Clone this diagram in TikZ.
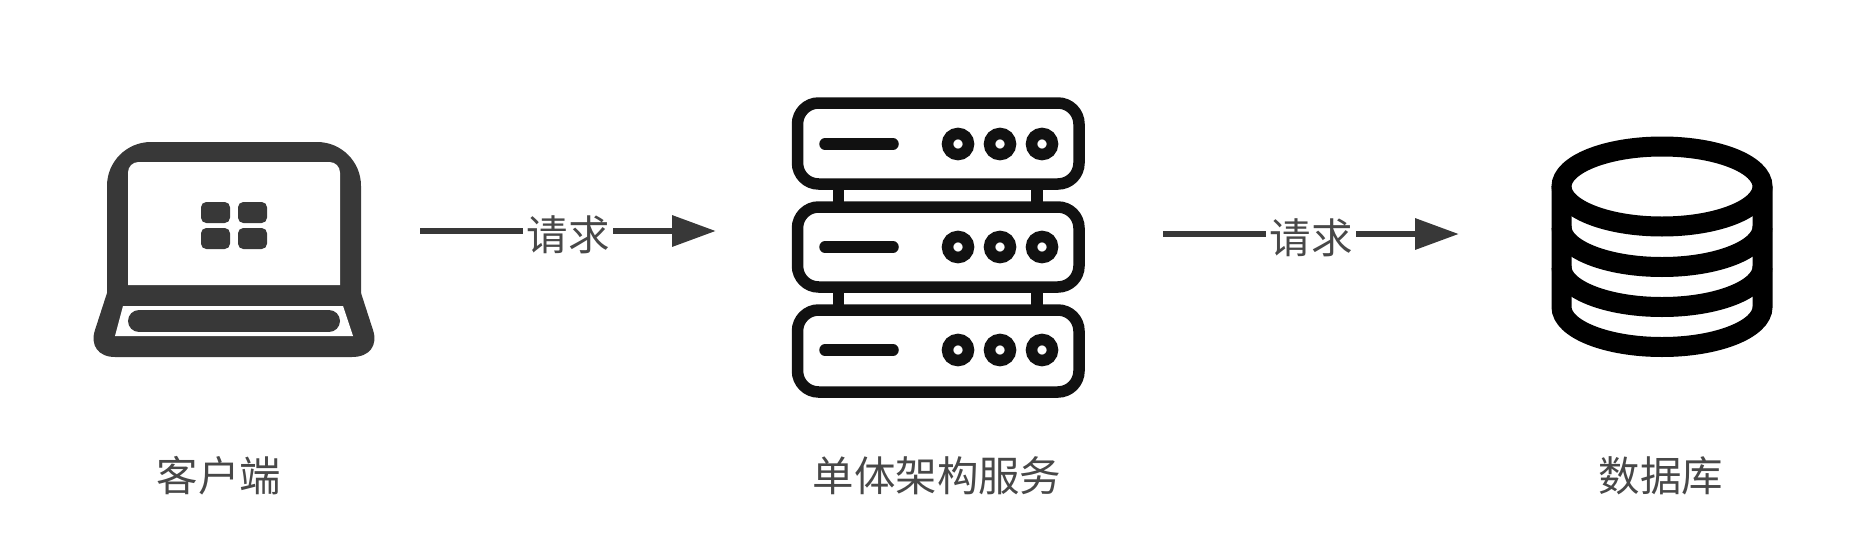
\documentclass[tikz,border=0pt]{standalone}
\usepackage{fontspec}
\setmainfont{Noto Sans CJK SC}
\usetikzlibrary{arrows.meta}
\definecolor{laptopgray}{HTML}{383838}
\definecolor{servergray}{HTML}{111111}
\definecolor{textgray}{HTML}{484848}
\tikzstyle{caption}=[font=\fontsize{23.6}{28}\selectfont,text=textgray,inner sep=0pt]
\tikzstyle{reqlabel}=[font=\fontsize{23.6}{28}\selectfont,text=textgray,inner xsep=2pt,inner ysep=0pt]
\tikzstyle{reqline}=[draw=laptopgray,line width=0.13cm]
\tikzstyle{reqarrow}=[reqline,-{Triangle[length=0.88cm,width=0.6cm]}]
\tikzstyle{serverline}=[draw=servergray,line width=0.23cm]
\tikzstyle{dbline}=[draw=black,line width=0.4cm]
\begin{document}
\begin{tikzpicture}[x=0.02cm,y=-0.02cm]
\useasboundingbox (0,0) rectangle (1868,558);

%laptop
    \fill[laptopgray] (107,300) [rounded corners=25] -- (107,142) -- (361,142) [sharp corners] -- (361,300) -- cycle;
    \fill[laptopgray] (107,293) -- (95,330) .. controls (90,345) and (98,357) .. (115,357) -- (352,357) .. controls (370,357) and (378,345) .. (373,330) -- (361,293) -- cycle;
    \fill[white] (128,285) [rounded corners=6] -- (128,162) -- (340,162) [sharp corners] -- (340,285) -- cycle;
    \fill[white] (123,306) -- (343,306) -- (353,336) -- (115,336) -- cycle;
    \draw[laptopgray,line width=0.44cm,line cap=round] (139,321) -- (329,321);
    \foreach \x in {201,238}
        \foreach \y in {202,228}
            \fill[laptopgray,rounded corners=3] (\x,\y) rectangle (\x+29,\y+21);

%server
    \foreach \top/\bottom/\mid in {103/184/144, 207/287/247, 310/392/350}{
        \draw[serverline,rounded corners=12] (797.5,\top) rectangle (1079,\bottom);
        \draw[serverline,line cap=round] (825,\mid) -- (893,\mid);
        \foreach \x in {958,1000,1042}
            \draw[serverline] (\x,\mid) circle (10.5);
    }
    \foreach \x in {838.5,1037}
        \foreach \top/\bottom in {189/202, 292/305}
            \draw[serverline] (\x,\top) -- (\x,\bottom);

%database
    \draw[dbline] (1662,186.5) ellipse [x radius=100.5,y radius=40];
    \foreach \y in {227,267}
        \draw[dbline] (1561.5,\y) arc [start angle=180,end angle=0,x radius=100.5,y radius=40];
    \draw[dbline] (1561.5,186.5) -- (1561.5,307) arc [start angle=180,end angle=0,x radius=100.5,y radius=40] -- (1762.5,186.5);

%captions
    \node[caption] (clienttext) at (219,476) {客户端};
    \node[caption] (servicetext) at (937,476) {单体架构服务};
    \node[caption] (dbtext) at (1661,476) {数据库};

%requests
    \foreach \start/\mid/\stop/\y/\name in {420/568/716/231/reqa, 1163/1311/1459/234/reqb}{
        \coordinate (\name from) at (\start,\y);
        \coordinate (\name to) at (\stop,\y);
        \node[reqlabel] (\name) at (\mid,\y+4) {请求};
        \path[reqline] (\name from) -- (\name from -| \name.west);
        \path[reqarrow] (\name to -| \name.east) -- (\name to);
    }
\end{tikzpicture}
\end{document}
